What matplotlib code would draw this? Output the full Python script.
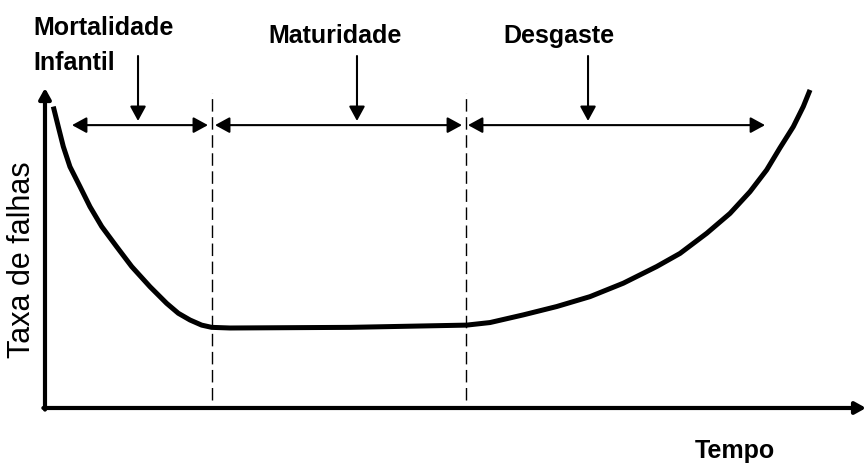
import matplotlib.pyplot as plt

# Bathtub curve
# time axis runs 0..10, failure rate axis runs 0..10
tempo = [0.101, 0.162, 0.223, 0.304, 0.426, 0.548, 0.691, 0.873, 1.056, 1.279,
         1.482, 1.624, 1.766, 1.908, 2.030, 2.253, 3.715,
         5.136, 5.420, 5.826, 6.232, 6.638, 7.044, 7.450, 7.734, 8.060,
         8.343, 8.587, 8.790, 8.952, 9.114, 9.236, 9.318]
taxa = [9.42, 8.79, 8.17, 7.54, 6.92, 6.29, 5.67, 5.04, 4.42, 3.79,
        3.27, 2.96, 2.75, 2.59, 2.52, 2.50, 2.52,
        2.59, 2.67, 2.91, 3.17, 3.48, 3.90, 4.42, 4.83, 5.46,
        6.08, 6.76, 7.44, 8.13, 8.79, 9.42, 9.94]

# phase boundaries (dashed lines)
limites = [2.034, 5.128]

# phase labels, span of each double arrow and position of the pointer arrow
fases = ["Mortalidade\nInfantil", "Maturidade", "Desgaste"]
fase_inicio = [0.329, 2.071, 5.152]
fase_fim = [1.985, 5.079, 8.770]
fase_seta = [1.133, 3.80, 6.614]

bold_font = ["Liberation Sans", "DejaVu Sans"]

fig = plt.figure(figsize=(8.68, 4.67), dpi=100)
ax = fig.add_axes([0, 0, 1, 1])
ax.set_xlim(-0.548, 10.024)
ax.set_ylim(-1.844, 12.75)
ax.axis("off")

# axes with arrow tips
axis_style = dict(arrowstyle="-|>,head_length=0.45,head_width=0.25",
                  color="black", lw=3, mutation_scale=14, shrinkA=0, shrinkB=0)
ax.annotate("", xy=(0, 10.0), xytext=(0, -0.05), arrowprops=axis_style)
ax.annotate("", xy=(10.0, 0), xytext=(-0.02, 0), arrowprops=axis_style)

# the curve
ax.plot(tempo, taxa, color="black", lw=3.6, solid_joinstyle="round",
        solid_capstyle="butt")

# dashed boundaries
for t in limites:
    ax.plot([t, t], [0.25, 9.84], color="black", lw=1, linestyle=(0, (9, 4)))

# phase arrows
span_style = dict(arrowstyle="<|-|>,head_length=0.55,head_width=0.3",
                  color="black", lw=1.5, mutation_scale=16, shrinkA=0, shrinkB=0)
down_style = dict(arrowstyle="-|>,head_length=0.55,head_width=0.3",
                  color="black", lw=1.5, mutation_scale=16, shrinkA=0, shrinkB=0)
for ini, fim, seta in zip(fase_inicio, fase_fim, fase_seta):
    ax.annotate("", xy=(fim, 8.84), xytext=(ini, 8.84), arrowprops=span_style)
    ax.annotate("", xy=(seta, 8.97), xytext=(seta, 11.0), arrowprops=down_style)

# labels
ax.text(-0.146, 11.66, "Mortalidade", family=bold_font, fontweight="bold",
        fontsize=18, ha="left", va="baseline")
ax.text(-0.146, 10.56, "Infantil", family=bold_font, fontweight="bold",
        fontsize=18, ha="left", va="baseline")
ax.text(3.532, 11.41, fases[1], family=bold_font, fontweight="bold",
        fontsize=18, ha="center", va="baseline")
ax.text(6.26, 11.41, fases[2], family=bold_font, fontweight="bold",
        fontsize=18, ha="center", va="baseline")
ax.text(7.917, -1.56, "Tempo", family=bold_font, fontweight="bold",
        fontsize=18, ha="left", va="baseline")
ax.text(-0.28, 4.625, "Taxa de falhas", family="Liberation Sans",
        fontsize=22, rotation=90, ha="center", va="center")

fig.savefig("out.png", dpi=100)
